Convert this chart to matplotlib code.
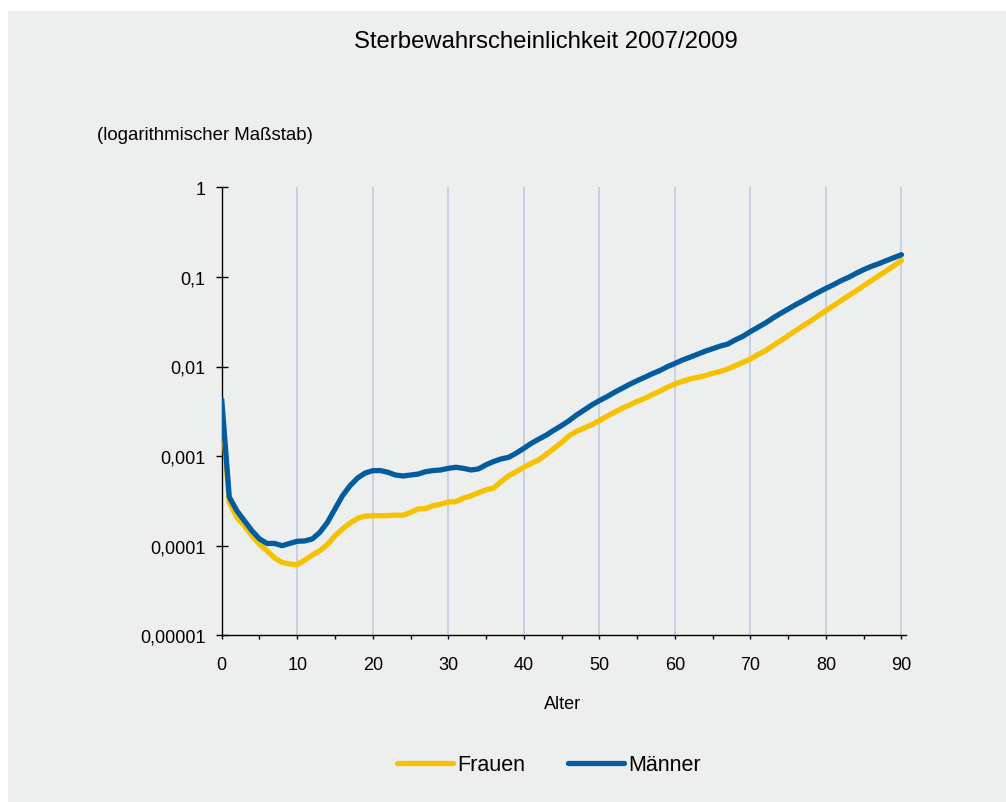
import matplotlib
matplotlib.use("Agg")
import matplotlib.pyplot as plt
from matplotlib.patches import Rectangle
from matplotlib.ticker import FixedLocator, NullLocator, NullFormatter

plt.rcParams['font.family'] = ['Liberation Sans', 'DejaVu Sans']

title = "Sterbewahrscheinlichkeit 2007/2009"
subtitle = "(logarithmischer Maßstab)"
xlabel = "Alter"
series_names = ["Frauen", "Männer"]

ages = list(range(0, 91))

frauen = [0.0036, 0.000305, 0.000207, 0.000167, 0.000129, 0.000104, 0.000088, 0.000073,
          0.000065, 0.0000625, 0.0000614, 0.0000692, 0.0000787, 0.000088, 0.000103, 0.000129,
          0.000154, 0.000179, 0.000202, 0.000214, 0.000216, 0.000216, 0.000217, 0.000219,
          0.000219, 0.000235, 0.000257, 0.00026, 0.00028, 0.00029, 0.000307, 0.00031,
          0.00034, 0.00036, 0.00039, 0.00042, 0.00044, 0.00052, 0.000605, 0.00067,
          0.00075, 0.00083, 0.00091, 0.00105, 0.00122, 0.00142, 0.00169, 0.00189,
          0.00206, 0.00224, 0.00249, 0.00278, 0.00308, 0.00341, 0.00372, 0.00408,
          0.00441, 0.00485, 0.00529, 0.00586, 0.00638, 0.00684, 0.00726, 0.00757,
          0.0079, 0.0084, 0.0088, 0.0094, 0.0102, 0.0111, 0.0121, 0.0136,
          0.0150, 0.0171, 0.0194, 0.0221, 0.0251, 0.0286, 0.0322, 0.0369,
          0.042, 0.0478, 0.0543, 0.0618, 0.0697, 0.0799, 0.0907, 0.103,
          0.117, 0.133, 0.152]

maenner = [0.0043, 0.00035, 0.000246, 0.00019, 0.000147, 0.000119, 0.000106, 0.000106,
           0.0001, 0.000106, 0.000112, 0.000113, 0.000119, 0.000141, 0.000182, 0.000257,
           0.000362, 0.000468, 0.00057, 0.000648, 0.000688, 0.00069, 0.00066, 0.000615,
           0.0006, 0.000615, 0.00063, 0.00067, 0.00069, 0.0007, 0.00073, 0.00075,
           0.00073, 0.0007, 0.00072, 0.0008, 0.00087, 0.00093, 0.00097, 0.00108,
           0.00122, 0.00139, 0.00155, 0.00172, 0.00195, 0.00219, 0.00249, 0.00288,
           0.00327, 0.00372, 0.00416, 0.0046, 0.00515, 0.0057, 0.00632, 0.00695,
           0.00757, 0.0083, 0.0090, 0.00995, 0.0108, 0.0118, 0.0127, 0.0137,
           0.0148, 0.0158, 0.0169, 0.0178, 0.0198, 0.0217, 0.0245, 0.0274,
           0.0306, 0.0348, 0.0392, 0.0438, 0.049, 0.0543, 0.0607, 0.0673,
           0.0745, 0.0818, 0.0907, 0.0989, 0.1096, 0.1205, 0.131, 0.1405,
           0.152, 0.164, 0.177]

y_tick_values = [0.00001, 0.0001, 0.001, 0.01, 0.1, 1]
y_tick_labels = ["0,00001", "0,0001", "0,001", "0,01", "0,1", "1"]
x_tick_values = [0, 10, 20, 30, 40, 50, 60, 70, 80, 90]
x_minor_values = [5, 15, 25, 35, 45, 55, 65, 75, 85]

BG = "#edefee"
YELLOW = "#f6c200"
BLUE = "#045c9f"
GRID = "#b9c9dd"

W, H = 1006, 803
fig = plt.figure(figsize=(W / 100, H / 100), dpi=100)
fig.patch.set_facecolor("white")
fig.patches.append(Rectangle((8 / W, 0), 1 - 8 / W, 1 - 12 / H, transform=fig.transFigure,
                             facecolor=BG, edgecolor="none", zorder=-10))

ax = fig.add_axes([221.7 / W, 1 - 636.3 / H, (906 - 221.7) / W, (636.3 - 188.3) / H])
ax.patch.set_visible(False)

l1, = ax.plot(ages, frauen, color=YELLOW, lw=3.8, solid_capstyle='round',
              solid_joinstyle='round', label=series_names[0], zorder=3)
l2, = ax.plot(ages, maenner, color=BLUE, lw=3.8, solid_capstyle='round',
              solid_joinstyle='round', label=series_names[1], zorder=4)

ax.set_yscale('log')
ax.set_ylim(1e-5, 1)
ax.set_xlim(0, 90.6)

ax.yaxis.set_major_locator(FixedLocator(y_tick_values))
ax.set_yticklabels(y_tick_labels)
ax.yaxis.set_minor_locator(NullLocator())
ax.yaxis.set_minor_formatter(NullFormatter())

ax.set_xticks(x_tick_values)
ax.set_xticklabels([str(v) for v in x_tick_values])
ax.xaxis.set_minor_locator(FixedLocator(x_minor_values))

for s in ['top', 'right']:
    ax.spines[s].set_visible(False)
for s in ['left', 'bottom']:
    ax.spines[s].set_color("black")
    ax.spines[s].set_linewidth(1.0)

ax.tick_params(axis='y', which='major', direction='inout', length=8, width=1.0,
               labelsize=13, pad=7.5, colors='black')
ax.tick_params(axis='x', which='both', direction='out', length=3, width=1.0,
               labelsize=13, pad=12, colors='black')

ax.grid(True, axis='x', which='major', color=GRID, lw=1.1, zorder=1)
ax.set_axisbelow(True)

fig.text(545.5 / W, 1 - 42 / H, title, ha='center', va='center', fontsize=17.2)
fig.text(97 / W, 1 - 135 / H, subtitle, ha='left', va='center', fontsize=13.4)
fig.text(563 / W, 1 - 705 / H, xlabel, ha='center', va='center', fontsize=13)

leg = fig.legend(handles=[l1, l2], labels=series_names, loc='center',
                 bbox_to_anchor=(549 / W, 1 - 766 / H), ncol=2, frameon=False,
                 fontsize=15.5, handlelength=2.6, handletextpad=0.2,
                 columnspacing=2.0, borderaxespad=0)

fig.savefig("out.png", dpi=100, facecolor=fig.get_facecolor())
